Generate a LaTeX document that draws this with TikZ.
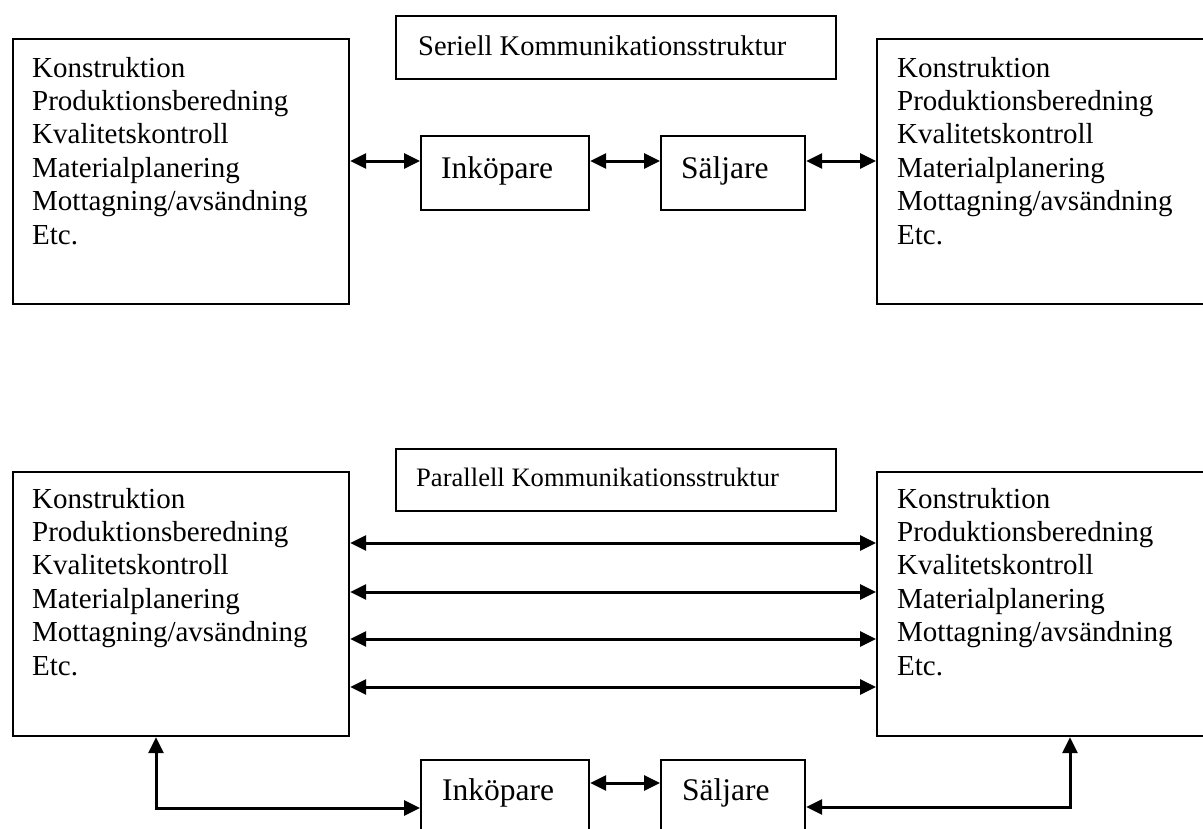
\documentclass[tikz,border=0pt]{standalone}
\usepackage{fontspec}
\setmainfont{Liberation Serif}
\usetikzlibrary{arrows.meta}
\newcommand\deptlist{\begin{tabular}[t]{@{}l@{}}Konstruktion\\Produktionsberedning\\Kvalitetskontroll\\Materialplanering\\Mottagning/avsändning\\Etc.\end{tabular}}
\tikzset{
  box/.style={draw, line width=2.2pt, rectangle, inner sep=0pt, anchor=north west},
  conn/.style={line width=3pt, {Triangle[length=16pt,width=15pt]}-{Triangle[length=16pt,width=15pt]}},
  lst/.style={anchor=base west, inner sep=0pt, font=\fontsize{29}{33.4}\selectfont},
  ttl/.style={anchor=base west, inner sep=0pt},
  actor/.style={anchor=base west, inner sep=0pt, font=\fontsize{31.5}{36}\selectfont},
}
\begin{document}
\begin{tikzpicture}[x=1pt,y=-1pt]
\clip (0,0) rectangle (1203,828);
\useasboundingbox (0,0) rectangle (1203,828);
% ---------- serial structure ----------
\node[box, minimum width=440pt, minimum height=63pt] (T1) at (395,15) {};
\node[ttl, font=\fontsize{28.5}{33}\selectfont] (T1t) at (418,55) {Seriell Kommunikationsstruktur};
\node[box, minimum width=336pt, minimum height=265pt] (L1) at (12,38) {};
\node[lst] (L1t) at (32,77) {\deptlist};
\node[box, minimum width=340pt, minimum height=265pt] (R1) at (876,38) {};
\node[lst] (R1t) at (897,77) {\deptlist};
\node[box, minimum width=168pt, minimum height=74pt] (I1) at (420,135) {};
\node[actor] (I1t) at (441,178) {Inköpare};
\node[box, minimum width=144pt, minimum height=74pt] (S1) at (660,135) {};
\node[actor] (S1t) at (681,178) {Säljare};
\coordinate (ya) at (0,161);
\draw[conn] (L1.east |- ya) -- (I1.west |- ya);
\draw[conn] (I1.east |- ya) -- (S1.west |- ya);
\draw[conn] (S1.east |- ya) -- (R1.west |- ya);
% ---------- parallel structure ----------
\node[box, minimum width=440pt, minimum height=62pt] (T2) at (395,448) {};
\node[ttl, font=\fontsize{26.6}{31}\selectfont] (T2t) at (416,486) {Parallell Kommunikationsstruktur};
\node[box, minimum width=336pt, minimum height=264pt] (L2) at (12,471) {};
\node[lst] (L2t) at (32,508) {\deptlist};
\node[box, minimum width=340pt, minimum height=264pt] (R2) at (876,471) {};
\node[lst] (R2t) at (897,508) {\deptlist};
\foreach \yy in {543,592,639,687}{
  \coordinate (p) at (0,\yy);
  \draw[conn] (L2.east |- p) -- (R2.west |- p);
}
\node[box, minimum width=168pt, minimum height=74pt] (I2) at (420,759) {};
\node[actor] (I2t) at (442,800) {Inköpare};
\node[box, minimum width=144pt, minimum height=74pt] (S2) at (660,759) {};
\node[actor] (S2t) at (682,800) {Säljare};
\coordinate (yb) at (0,783);
\draw[conn] (I2.east |- yb) -- (S2.west |- yb);
\coordinate (cl) at (156,808);
\coordinate (cr) at (1070,807);
\draw[conn] (L2.south -| cl) -- (cl) -- (I2.west |- cl);
\draw[conn] (R2.south -| cr) -- (cr) -- (S2.east |- cr);
\end{tikzpicture}
\end{document}
